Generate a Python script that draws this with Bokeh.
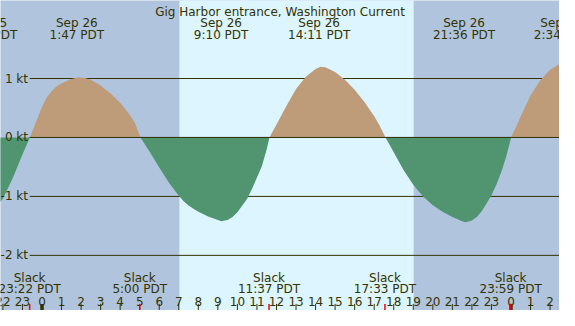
from bokeh.plotting import figure
from bokeh.models import Range1d
from bokeh.core.properties import value
from bokeh.embed import file_html
from bokeh.resources import INLINE

# ---- data (hours relative to Sep 26 00:00 PDT, current in knots) ----
times = [-2.5, -2.0, -1.5, -1.0, -0.62, -0.5, -0.25, 0.0, 0.25, 0.5, 0.75, 1.0, 1.5, 1.9,
         2.2, 2.5, 3.0, 3.5, 4.0, 4.5, 4.75, 5.04, 5.5, 6.0, 6.5, 7.0, 7.25, 7.5, 7.75, 8.0,
         8.5, 9.0, 9.18, 9.5, 9.75, 10.0, 10.5, 10.75, 11.0, 11.25, 11.5, 11.64, 12.0, 12.5,
         13.0, 13.5, 14.0, 14.26, 14.5, 15.0, 15.5, 16.0, 16.5, 17.0, 17.25, 17.58, 18.0,
         18.5, 19.0, 19.5, 20.0, 20.5, 21.0, 21.5, 21.67, 22.0, 22.25, 22.5, 22.75, 23.0,
         23.25, 23.5, 23.75, 24.01, 24.5, 25.0, 25.5, 26.0, 26.5, 27.0]
speeds = [-1.22, -1.04, -0.69, -0.29, 0.0, 0.10, 0.31, 0.52, 0.68, 0.79, 0.87, 0.92, 0.99, 1.02,
          1.01, 0.98, 0.88, 0.75, 0.59, 0.38, 0.25, 0.0, -0.24, -0.51, -0.77, -0.99, -1.08, -1.155, -1.21, -1.26,
          -1.34, -1.40, -1.42, -1.40, -1.35, -1.27, -1.04, -0.87, -0.68, -0.49, -0.20, 0.0, 0.22, 0.53,
          0.82, 1.03, 1.16, 1.20, 1.19, 1.11, 0.98, 0.81, 0.60, 0.36, 0.22, 0.0, -0.25,
          -0.55, -0.80, -1.0, -1.15, -1.26, -1.35, -1.42, -1.44, -1.41, -1.35, -1.25, -1.12, -0.98,
          -0.80, -0.59, -0.33, 0.0, 0.36, 0.71, 0.97, 1.15, 1.25, 1.23]

event_times = [-2.85, 1.783, 9.167, 14.183, 21.6, 26.567]
event_dates = ["Sep 25", "Sep 26", "Sep 26", "Sep 26", "Sep 26", "Sep 27"]
event_labels = ["21:09 PDT", "1:47 PDT", "9:10 PDT", "14:11 PDT", "21:36 PDT", "2:34 PDT"]

slack_times = [-0.633, 5.0, 11.617, 17.55, 23.983]
slack_labels = ["23:22 PDT", "5:00 PDT", "11:37 PDT", "17:33 PDT", "23:59 PDT"]

hour_ticks = list(range(-2, 27))
hour_labels = ["22", "23", "0", "1", "2", "3", "4", "5", "6", "7", "8", "9", "10", "11",
               "12", "13", "14", "15", "16", "17", "18", "19", "20", "21", "22", "23",
               "0", "1", "2"]

level_values = [1, 0, -1, -2]
level_labels = ["1 kt", "0 kt", "-1 kt", "-2 kt"]

sunrise, sunset = 7.03, 19.02
title = "Gig Harbor entrance, Washington Current"

# ---- style ----
NIGHT = "#B0C4DE"
DAY = "#DCF5FF"
TAN = "#BE9C7A"
GREEN = "#50956F"
INK = "#333300"
FONT = value("DejaVu Sans")
FS = value("12px")

X0, X1 = -2.124, 26.483
Y0, Y1 = -2.935, 2.323

p = figure(width=559, height=310, x_range=Range1d(X0, X1), y_range=Range1d(Y0, Y1),
           output_backend="svg", toolbar_location=None, min_border=0,
           x_axis_location=None, y_axis_location=None,
           background_fill_color=NIGHT, border_fill_color=NIGHT)
p.grid.visible = False
p.outline_line_color = None

# daylight band
p.quad(left=[sunrise], right=[sunset], bottom=[Y0 - 1], top=[Y1 + 1],
       fill_color=DAY, line_color=None)

# level lines (under the fill)
grid_start = -0.63
p.segment(x0=[grid_start] * len(level_values), y0=level_values,
          x1=[X1 + 1] * len(level_values), y1=level_values,
          line_color=INK, line_width=1)

pos = [max(v, 0) for v in speeds]
neg = [min(v, 0) for v in speeds]
p.varea(x=times, y1=[0] * len(times), y2=pos, fill_color=TAN)
p.varea(x=times, y1=neg, y2=[0] * len(times), fill_color=GREEN)

# zero line on top
p.segment(x0=[grid_start], y0=[0], x1=[X1 + 1], y1=[0], line_color=INK, line_width=1)

# level labels
p.text(x=[-0.716] * len(level_values), y=level_values, text=level_labels,
       text_font=FONT, text_font_size=FS, text_color=INK,
       text_align="right", text_baseline="middle")

# title
p.text(x=[(X0 + X1) / 2], y=[2.134], text=[title], text_font=FONT, text_font_size=FS,
       text_color=INK, text_align="center", text_baseline="alphabetic")

# event labels
p.text(x=event_times, y=[1.935] * len(event_times), text=event_dates, text_font=FONT,
       text_font_size=FS, text_color=INK, text_align="center", text_baseline="alphabetic")
p.text(x=event_times, y=[1.742] * len(event_times), text=event_labels, text_font=FONT,
       text_font_size=FS, text_color=INK, text_align="center", text_baseline="alphabetic")

# slack labels
p.text(x=slack_times, y=[-2.387] * len(slack_times), text=["Slack"] * len(slack_times),
       text_font=FONT, text_font_size=FS, text_color=INK, text_align="center",
       text_baseline="alphabetic")
p.text(x=slack_times, y=[-2.576] * len(slack_times), text=slack_labels,
       text_font=FONT, text_font_size=FS, text_color=INK, text_align="center",
       text_baseline="alphabetic")

# hour labels
p.text(x=hour_ticks, y=[-2.774] * len(hour_ticks), text=hour_labels,
       text_font=FONT, text_font_size=FS, text_color=INK, text_align="center",
       text_baseline="alphabetic")

# hour ticks
tick_top = -2.823
normal = [h for h, l in zip(hour_ticks, hour_labels) if l != "0"]
midn = [h for h, l in zip(hour_ticks, hour_labels) if l == "0"]
p.segment(x0=normal, y0=[tick_top] * len(normal), x1=normal, y1=[Y0 - 1] * len(normal),
          line_color=INK, line_width=1)
p.segment(x0=midn, y0=[tick_top] * len(midn), x1=midn, y1=[Y0 - 1] * len(midn),
          line_color=INK, line_width=3.5)
p.segment(x0=slack_times, y0=[tick_top] * len(slack_times), x1=slack_times,
          y1=[Y0 - 1] * len(slack_times), line_color="#FF0000", line_width=1.5)

open("out.html", "w").write(file_html(p, INLINE))
